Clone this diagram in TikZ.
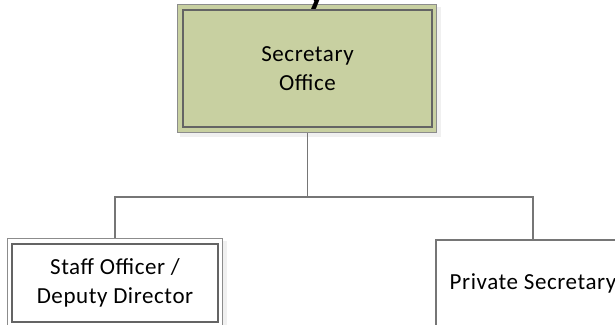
\documentclass[tikz,border=0pt]{standalone}
\usepackage{fontspec}
\setmainfont[LetterSpace=2.5]{Carlito}
\usepackage{tikz}
\usetikzlibrary{backgrounds}
\definecolor{officegreen}{RGB}{200,208,161}
\definecolor{framedark}{RGB}{100,100,100}
\definecolor{framelight}{RGB}{140,140,140}
\definecolor{linegray}{RGB}{118,118,118}

\begin{document}
\begin{tikzpicture}[x=1pt,y=1pt,
	every node/.style={font=\fontsize{23}{29}\selectfont, align=center},
	unitbox/.style={rectangle, draw=framedark, line width=1.6pt, inner sep=0pt},
	outerframe/.style={draw=framelight, line width=1pt},
	boxshadow/.style={fill=black!6, draw=none},
	link/.style={draw=linegray, line width=1.6pt}]
			\useasboundingbox (0,0) rectangle (615,-324);
			\node[font=\fontsize{40}{48}\selectfont\bfseries, anchor=base] at (317,-4) (title){y};
			\node[unitbox, fill=officegreen, minimum width=249, minimum height=117] at (307.5,-68.5) (sec){Secretary\\Office};
			\node[unitbox, fill=white, minimum width=206, minimum height=78] at (115,-283) (staff){Staff Officer /\\Deputy Director};
			\node[unitbox, draw=linegray, line width=1.2pt, fill=white, minimum width=194, minimum height=86] at (533,-283) (priv){Private Secretary};
			\coordinate (bus) at (307.5,-197);
			\begin{scope}[on background layer]
				\fill[boxshadow] ([shift={(-2,2)}]sec.north west) rectangle ([shift={(8,-9)}]sec.south east);
				\fill[boxshadow] ([shift={(-2,2)}]staff.north west) rectangle ([shift={(8,-9)}]staff.south east);
				\draw[link] (sec.south) -- (bus);
				\draw[link] (bus) -| (staff.north);
				\draw[link] (bus) -| (priv.north);
				\draw[outerframe, fill=officegreen] ([shift={(-5,5)}]sec.north west) rectangle ([shift={(4,-5)}]sec.south east);
				\draw[outerframe, fill=white] ([shift={(-4,5)}]staff.north west) rectangle ([shift={(4,-5)}]staff.south east);
			\end{scope}
			% \draw (bus) node[circle, fill, inner sep=1pt]{};
		\end{tikzpicture}
\end{document}
